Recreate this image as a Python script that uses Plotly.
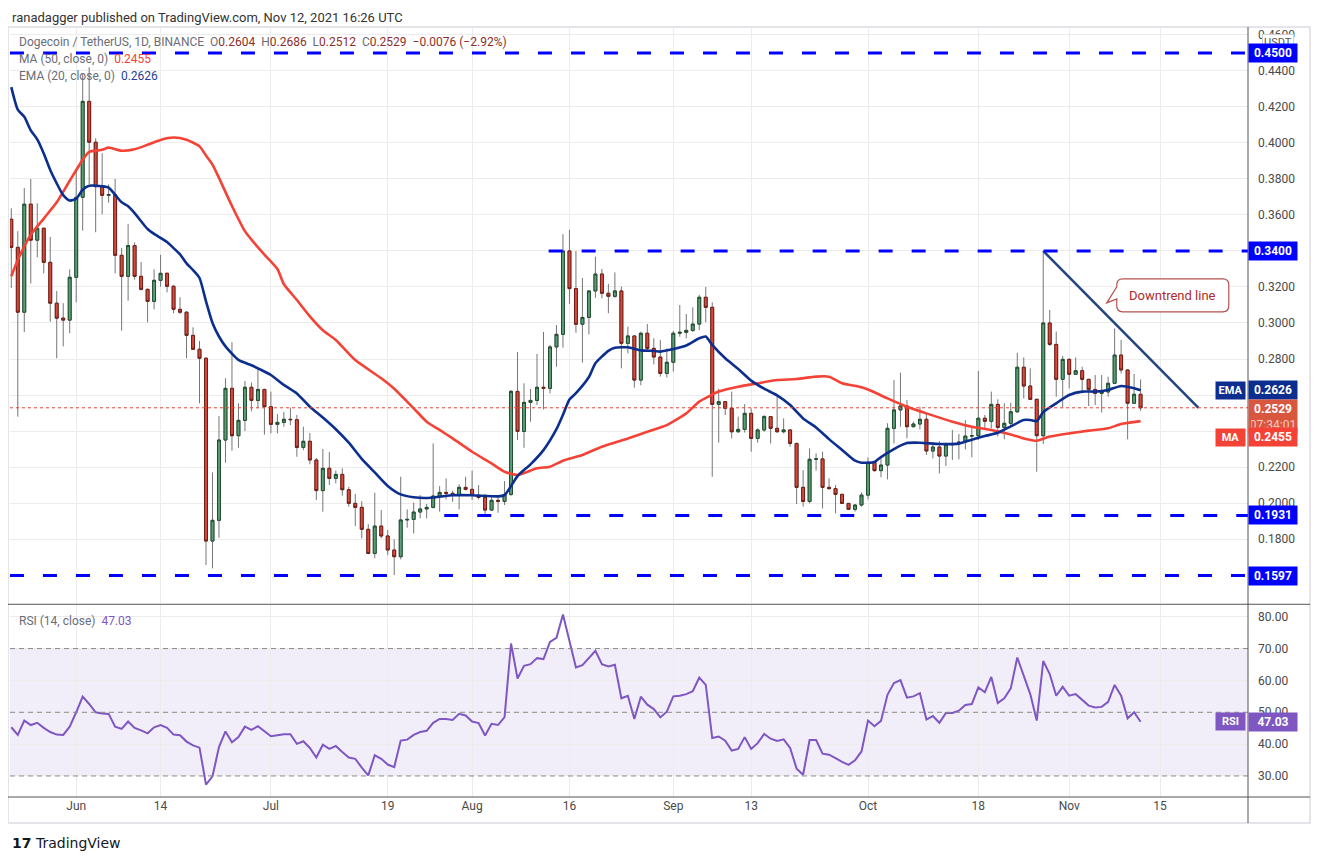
import pandas as pd
import plotly.graph_objects as go
from plotly.subplots import make_subplots

START = "2021-05-22"

# daily candles, Binance DOGE/USDT, 22 May -> 12 Nov 2021
opens = [
    0.3576, 0.3420, 0.3060, 0.3660, 0.3460, 0.3526, 0.3337, 0.3110, 0.3027, 0.3016,
    0.3254, 0.3698, 0.4231, 0.4004, 0.3757, 0.3709, 0.3713, 0.3376, 0.3259, 0.3430,
    0.3259, 0.3187, 0.3120, 0.3237, 0.3276, 0.3204, 0.3076, 0.3060, 0.2931, 0.2854,
    0.2804, 0.1789, 0.1904, 0.2350, 0.2637, 0.2374, 0.2459, 0.2643, 0.2570, 0.2631,
    0.2535, 0.2437, 0.2448, 0.2465, 0.2463, 0.2309, 0.2343, 0.2239, 0.2069, 0.2193,
    0.2137, 0.2159, 0.2074, 0.1998, 0.1976, 0.1854, 0.1720, 0.1872, 0.1817, 0.1739,
    0.1702, 0.1906, 0.1909, 0.1950, 0.1967, 0.1976, 0.2039, 0.2059, 0.2054, 0.2046,
    0.2087, 0.2076, 0.2043, 0.2031, 0.1961, 0.2015, 0.2009, 0.2048, 0.2620, 0.2398,
    0.2559, 0.2570, 0.2643, 0.2637, 0.2867, 0.2937, 0.3400, 0.3191, 0.2993, 0.3031,
    0.3178, 0.3272, 0.3165, 0.3148, 0.3178, 0.2887, 0.2928, 0.2683, 0.2943, 0.2859,
    0.2811, 0.2720, 0.2782, 0.2943, 0.2948, 0.2959, 0.2994, 0.3143, 0.3087, 0.2548,
    0.2563, 0.2526, 0.2396, 0.2409, 0.2498, 0.2359, 0.2406, 0.2480, 0.2415, 0.2396,
    0.2406, 0.2331, 0.2087, 0.2009, 0.2243, 0.2245, 0.2087, 0.2080, 0.2048, 0.1998,
    0.1965, 0.1989, 0.2044, 0.2226, 0.2180, 0.2211, 0.2415, 0.2517, 0.2539, 0.2424,
    0.2439, 0.2465, 0.2289, 0.2311, 0.2261, 0.2324, 0.2331, 0.2339, 0.2372, 0.2374,
    0.2471, 0.2454, 0.2548, 0.2420, 0.2443, 0.2507, 0.2754, 0.2650, 0.2576, 0.2374,
    0.3000, 0.2881, 0.2687, 0.2798, 0.2715, 0.2735, 0.2687, 0.2631, 0.2609, 0.2617,
    0.2665, 0.2822, 0.2739, 0.2554, 0.2604,
]
highs = [
    0.3637, 0.3510, 0.3750, 0.3800, 0.3665, 0.3530, 0.3478, 0.3178, 0.3110, 0.3298,
    0.3850, 0.4385, 0.4420, 0.4026, 0.3943, 0.3770, 0.3800, 0.3417, 0.3550, 0.3448,
    0.3339, 0.3190, 0.3298, 0.3378, 0.3280, 0.3210, 0.3143, 0.3065, 0.2976, 0.2900,
    0.2810, 0.2170, 0.2483, 0.2693, 0.2893, 0.2554, 0.2678, 0.2670, 0.2752, 0.2635,
    0.2619, 0.2494, 0.2506, 0.2531, 0.2489, 0.2424, 0.2389, 0.2250, 0.2300, 0.2283,
    0.2180, 0.2193, 0.2090, 0.2050, 0.2011, 0.1883, 0.2057, 0.1961, 0.1850, 0.1798,
    0.2146, 0.1965, 0.2002, 0.2044, 0.1995, 0.2331, 0.2094, 0.2137, 0.2069, 0.2104,
    0.2146, 0.2180, 0.2100, 0.2050, 0.2039, 0.2040, 0.2122, 0.2628, 0.2839, 0.2665,
    0.2633, 0.2828, 0.2950, 0.2878, 0.2989, 0.3494, 0.3517, 0.3400, 0.3250, 0.3180,
    0.3369, 0.3300, 0.3217, 0.3281, 0.3202, 0.2980, 0.2930, 0.2952, 0.2994, 0.2915,
    0.2906, 0.2859, 0.2956, 0.3100, 0.3050, 0.3087, 0.3156, 0.3200, 0.3115, 0.2635,
    0.2565, 0.2619, 0.2480, 0.2550, 0.2526, 0.2415, 0.2489, 0.2482, 0.2600, 0.2470,
    0.2410, 0.2335, 0.2183, 0.2304, 0.2276, 0.2285, 0.2137, 0.2100, 0.2052, 0.2000,
    0.1994, 0.2059, 0.2254, 0.2230, 0.2248, 0.2443, 0.2683, 0.2724, 0.2572, 0.2452,
    0.2535, 0.2498, 0.2335, 0.2344, 0.2335, 0.2406, 0.2383, 0.2461, 0.2424, 0.2733,
    0.2489, 0.2619, 0.2576, 0.2554, 0.2557, 0.2835, 0.2809, 0.2748, 0.2580, 0.3400,
    0.3072, 0.2952, 0.2817, 0.2804, 0.2809, 0.2757, 0.2690, 0.2711, 0.2711, 0.2702,
    0.2970, 0.2906, 0.2742, 0.2717, 0.2686,
]
lows = [
    0.3195, 0.2480, 0.2950, 0.3220, 0.3365, 0.3276, 0.3007, 0.2804, 0.2870, 0.2943,
    0.3115, 0.3513, 0.3772, 0.3504, 0.3604, 0.3668, 0.3276, 0.2957, 0.3124, 0.3240,
    0.3180, 0.3004, 0.3076, 0.3202, 0.3170, 0.3054, 0.3050, 0.2804, 0.2850, 0.2554,
    0.1656, 0.1637, 0.1807, 0.2224, 0.2291, 0.2307, 0.2400, 0.2509, 0.2526, 0.2380,
    0.2387, 0.2387, 0.2424, 0.2433, 0.2257, 0.2294, 0.2215, 0.2017, 0.1952, 0.2100,
    0.2109, 0.2041, 0.1980, 0.1872, 0.1804, 0.1715, 0.1693, 0.1804, 0.1711, 0.1600,
    0.1687, 0.1863, 0.1831, 0.1915, 0.1915, 0.1970, 0.1952, 0.2020, 0.2007, 0.1965,
    0.2070, 0.2017, 0.2020, 0.1933, 0.1957, 0.1946, 0.1989, 0.2040, 0.2350, 0.2307,
    0.2452, 0.2545, 0.2520, 0.2609, 0.2757, 0.2863, 0.3106, 0.2946, 0.2780, 0.2937,
    0.3140, 0.3137, 0.3054, 0.3140, 0.2748, 0.2831, 0.2641, 0.2654, 0.2841, 0.2770,
    0.2702, 0.2698, 0.2730, 0.2924, 0.2915, 0.2950, 0.2961, 0.3004, 0.2146, 0.2335,
    0.2489, 0.2359, 0.2390, 0.2391, 0.2285, 0.2335, 0.2396, 0.2331, 0.2390, 0.2387,
    0.2313, 0.1994, 0.1980, 0.1998, 0.2180, 0.1970, 0.2075, 0.1943, 0.1995, 0.1962,
    0.1952, 0.1980, 0.2020, 0.2175, 0.2143, 0.2131, 0.2331, 0.2424, 0.2359, 0.2420,
    0.2409, 0.2267, 0.2248, 0.2165, 0.2206, 0.2239, 0.2243, 0.2298, 0.2254, 0.2350,
    0.2406, 0.2415, 0.2369, 0.2354, 0.2424, 0.2500, 0.2581, 0.2572, 0.2174, 0.2328,
    0.2872, 0.2591, 0.2526, 0.2637, 0.2711, 0.2624, 0.2539, 0.2544, 0.2502, 0.2591,
    0.2660, 0.2720, 0.2354, 0.2550, 0.2512,
]
closes = [
    0.3420, 0.3060, 0.3660, 0.3460, 0.3526, 0.3337, 0.3110, 0.3027, 0.3016, 0.3254,
    0.3698, 0.4231, 0.4004, 0.3757, 0.3709, 0.3713, 0.3376, 0.3259, 0.3430, 0.3259,
    0.3187, 0.3120, 0.3237, 0.3276, 0.3204, 0.3076, 0.3060, 0.2931, 0.2854, 0.2804,
    0.1789, 0.1904, 0.2350, 0.2637, 0.2374, 0.2459, 0.2643, 0.2570, 0.2631, 0.2535,
    0.2437, 0.2448, 0.2465, 0.2463, 0.2309, 0.2343, 0.2239, 0.2069, 0.2193, 0.2137,
    0.2159, 0.2074, 0.1998, 0.1976, 0.1854, 0.1720, 0.1872, 0.1817, 0.1739, 0.1702,
    0.1906, 0.1909, 0.1950, 0.1967, 0.1976, 0.2039, 0.2059, 0.2054, 0.2046, 0.2087,
    0.2076, 0.2043, 0.2031, 0.1961, 0.2015, 0.2009, 0.2048, 0.2620, 0.2398, 0.2559,
    0.2570, 0.2643, 0.2637, 0.2867, 0.2937, 0.3400, 0.3191, 0.2993, 0.3031, 0.3178,
    0.3272, 0.3165, 0.3148, 0.3178, 0.2887, 0.2928, 0.2683, 0.2943, 0.2859, 0.2811,
    0.2720, 0.2782, 0.2943, 0.2948, 0.2959, 0.2994, 0.3143, 0.3087, 0.2548, 0.2563,
    0.2526, 0.2396, 0.2409, 0.2498, 0.2359, 0.2406, 0.2480, 0.2415, 0.2396, 0.2406,
    0.2331, 0.2087, 0.2009, 0.2243, 0.2245, 0.2087, 0.2080, 0.2048, 0.1998, 0.1965,
    0.1989, 0.2044, 0.2226, 0.2180, 0.2211, 0.2415, 0.2517, 0.2539, 0.2424, 0.2439,
    0.2465, 0.2289, 0.2311, 0.2261, 0.2324, 0.2331, 0.2339, 0.2372, 0.2374, 0.2471,
    0.2454, 0.2548, 0.2420, 0.2443, 0.2507, 0.2754, 0.2650, 0.2576, 0.2374, 0.3000,
    0.2881, 0.2687, 0.2798, 0.2715, 0.2735, 0.2687, 0.2631, 0.2609, 0.2617, 0.2665,
    0.2822, 0.2739, 0.2554, 0.2604, 0.2529,
]
rsi = [
    45.3, 42.9, 47.4, 46.0, 46.7, 45.1, 43.8, 43.0, 42.9, 45.5,
    50.0, 54.9, 52.6, 50.0, 49.6, 49.5, 45.5, 44.8, 47.1, 45.1,
    44.3, 43.4, 45.3, 46.0, 45.1, 43.0, 42.8, 40.8, 39.6, 38.9,
    27.3, 29.9, 39.1, 44.0, 40.6, 42.2, 45.5, 44.5, 45.6, 44.1,
    42.5, 42.8, 43.1, 43.1, 40.1, 40.9, 38.8, 35.8, 39.8, 38.5,
    39.4, 37.5, 35.8, 35.4, 32.6, 30.2, 36.5, 35.4, 33.6, 32.8,
    41.1, 41.4, 42.9, 43.8, 44.2, 46.7, 47.9, 47.9, 47.6, 49.5,
    49.0, 47.1, 46.6, 42.7, 46.4, 46.0, 48.5, 71.6, 60.6, 64.6,
    65.1, 67.0, 66.7, 72.1, 73.4, 80.7, 71.9, 64.1, 64.8, 67.2,
    69.3, 65.1, 64.4, 64.9, 54.4, 55.2, 47.9, 54.9, 52.4, 51.0,
    48.4, 50.2, 55.0, 55.2, 55.7, 56.6, 60.9, 58.6, 41.9, 42.4,
    41.1, 38.0, 38.5, 42.2, 38.5, 40.3, 43.2, 41.7, 41.0, 41.5,
    38.8, 32.3, 30.4, 41.3, 41.3, 37.0, 36.7, 35.6, 34.4, 33.5,
    34.9, 37.7, 47.4, 45.6, 47.3, 55.5, 59.2, 60.1, 54.6, 55.0,
    56.0, 47.7, 48.8, 46.7, 49.8, 49.8, 50.5, 52.3, 52.6, 57.8,
    56.3, 61.1, 52.9, 54.4, 57.5, 67.2, 61.5, 55.7, 47.4, 66.1,
    62.0, 55.2, 58.0, 55.2, 55.7, 54.0, 52.1, 51.5, 51.7, 53.3,
    58.6, 55.2, 48.1, 50.0, 47.03,
]

# MA 50 and EMA 20 (day number from START, value)
ma_days = [0, 1, 3, 5, 7, 9, 11, 12, 14, 15, 17, 19, 21, 23, 25, 27, 29, 30, 31, 32,
           34, 36, 37, 39, 41, 42, 44, 46, 48, 50, 53, 57, 59, 62, 64, 66, 68, 71, 74, 76,
           78, 81, 83, 85, 88, 91, 95, 98, 100, 101, 104, 106, 109, 112, 115, 118, 121, 124, 126, 128,
           131, 133, 135, 138, 141, 145, 148, 151, 154, 156, 158, 160, 163, 166, 169, 171, 174]
ma_vals = [0.3260, 0.3350, 0.3490, 0.3580, 0.3670, 0.3790, 0.3906, 0.3950, 0.3962, 0.3974,
           0.3957, 0.3965, 0.3990, 0.4017, 0.4030, 0.4018, 0.3981, 0.3930, 0.3880, 0.3806,
           0.3650, 0.3510, 0.3463, 0.3380, 0.3300, 0.3215, 0.3128, 0.3037, 0.2960, 0.2906,
           0.2794, 0.2693, 0.2635, 0.2526, 0.2452, 0.2406, 0.2359, 0.2285, 0.2220, 0.2174,
           0.2156, 0.2193, 0.2202, 0.2235, 0.2267, 0.2313, 0.2359, 0.2396, 0.2420, 0.2433,
           0.2498, 0.2563, 0.2619, 0.2646, 0.2665, 0.2683, 0.2689, 0.2702, 0.2702, 0.2665,
           0.2643, 0.2615, 0.2581, 0.2535, 0.2498, 0.2452, 0.2424, 0.2406, 0.2381, 0.2359,
           0.2346, 0.2369, 0.2387, 0.2402, 0.2415, 0.2439, 0.2455]
ema_days = [0, 1, 2, 3, 4, 5, 6, 7, 8, 9, 10, 11, 12,
            14, 15, 16, 17, 18, 19, 20, 21, 22,
            24, 25, 26, 27, 28, 29, 30, 31, 32, 33,
            35, 37, 38, 40, 42, 44, 46, 48, 50, 52, 54, 56, 58, 60, 62, 64, 66, 68,
            71, 75, 76, 78, 80, 82, 84, 85, 86, 87, 89, 90, 92, 93, 95, 97, 99, 100,
            102, 104, 106, 107, 108, 110, 112, 114, 116, 118, 120, 122, 124, 126, 128, 130,
            131, 133, 134, 136, 138, 140, 143, 146, 148, 150, 152, 154, 156, 157, 158, 159,
            161, 163, 165, 167, 169, 171, 173, 174]
ema_vals = [0.4310, 0.4185, 0.4145, 0.4070, 0.4020, 0.3942, 0.3850, 0.3776, 0.3710, 0.3680, 0.3690, 0.3740, 0.3762,
            0.3759, 0.3752, 0.3712, 0.3670, 0.3648, 0.3610, 0.3565, 0.3522, 0.3495,
            0.3450, 0.3416, 0.3381, 0.3331, 0.3294, 0.3250, 0.3120, 0.3000, 0.2925, 0.2870,
            0.2795, 0.2765, 0.2748, 0.2711, 0.2656, 0.2609, 0.2535, 0.2475, 0.2410, 0.2335,
            0.2245, 0.2170, 0.2095, 0.2048, 0.2032, 0.2028, 0.2035, 0.2043,
            0.2043, 0.2037, 0.2044, 0.2150, 0.2215, 0.2294, 0.2410, 0.2490, 0.2575, 0.2610,
            0.2700, 0.2776, 0.2845, 0.2862, 0.2865, 0.2848, 0.2845, 0.2841,
            0.2855, 0.2875, 0.2915, 0.2925, 0.2878, 0.2804, 0.2745, 0.2680, 0.2635, 0.2598,
            0.2544, 0.2470, 0.2420, 0.2355, 0.2295, 0.2235,
            0.2224, 0.2228, 0.2255, 0.2300, 0.2333, 0.2335, 0.2328, 0.2330, 0.2352, 0.2372,
            0.2390, 0.2426, 0.2461, 0.2461, 0.2455, 0.2505,
            0.2554, 0.2600, 0.2619, 0.2619, 0.2628, 0.2650, 0.2637, 0.2626]

# horizontal levels drawn on the chart and where each one starts
levels = [0.4500, 0.3400, 0.1931, 0.1597]
level_start = ["2021-05-21 19:00", "2021-08-12 19:00", "2021-07-27 17:00", "2021-05-21 19:00"]

trend_x = ["2021-10-28", "2021-11-20 22:00"]
trend_y = [0.3400, 0.2529]

tick_dates = ["2021-06-01", "2021-06-14", "2021-07-01", "2021-07-19", "2021-08-01", "2021-08-16",
              "2021-09-01", "2021-09-13", "2021-10-01", "2021-10-18", "2021-11-01", "2021-11-15"]
tick_text = ["Jun", "14", "Jul", "19", "Aug", "16", "Sep", "13", "Oct", "18", "Nov", "15"]
price_grid = [0.18, 0.20, 0.22, 0.24, 0.26, 0.28, 0.30, 0.32, 0.34, 0.36, 0.38, 0.40, 0.42, 0.44, 0.46]
# scale labels hidden behind the coloured price tags in the reference
price_hidden = [0.24, 0.26, 0.34]
rsi_ticks = [30, 40, 50, 60, 70, 80]

x_range = ["2021-05-21 19:12", "2021-11-28 13:12"]

days = pd.date_range(START, periods=len(closes), freq="D")
t0 = pd.Timestamp(START)
ma_x = [t0 + pd.Timedelta(days=d) for d in ma_days]
ema_x = [t0 + pd.Timedelta(days=d) for d in ema_days]
body_hi = [max(o, c) for o, c in zip(opens, closes)]
body_lo = [min(o, c) for o, c in zip(opens, closes)]

UP_FILL, UP_EDGE = "#5b9f77", "#1f4d2e"
DN_FILL, DN_EDGE = "#d94a3a", "#6e1e18"
WICK = "#767676"
GRID = "#ececec"
AXIS = "#555555"
FONT = "Roboto"

fig = make_subplots(rows=2, cols=1, shared_xaxes=True, vertical_spacing=0.002)

# wicks, then bodies with a darker outline on top
fig.add_trace(go.Candlestick(x=days, open=opens, high=highs, low=lows, close=closes,
                             increasing=dict(line=dict(color=WICK, width=1), fillcolor=UP_FILL),
                             decreasing=dict(line=dict(color=WICK, width=1), fillcolor=DN_FILL),
                             hoverinfo="skip", showlegend=False), row=1, col=1)
fig.add_trace(go.Candlestick(x=days, open=opens, high=body_hi, low=body_lo, close=closes,
                             increasing=dict(line=dict(color=UP_EDGE, width=1), fillcolor=UP_FILL),
                             decreasing=dict(line=dict(color=DN_EDGE, width=1), fillcolor=DN_FILL),
                             hoverinfo="skip", showlegend=False), row=1, col=1)

fig.add_trace(go.Scatter(x=ma_x, y=ma_vals, mode="lines", hoverinfo="skip", showlegend=False,
                         line=dict(color="#f44336", width=2.6, shape="spline", smoothing=0.6)), row=1, col=1)
fig.add_trace(go.Scatter(x=ema_x, y=ema_vals, mode="lines", hoverinfo="skip", showlegend=False,
                         line=dict(color="#0c2f8f", width=2.6, shape="spline", smoothing=0.6)), row=1, col=1)
fig.add_trace(go.Scatter(x=trend_x, y=trend_y, mode="lines", hoverinfo="skip", showlegend=False,
                         line=dict(color="#23457f", width=2.5)), row=1, col=1)

fig.add_trace(go.Scatter(x=days, y=rsi, mode="lines", hoverinfo="skip", showlegend=False,
                         line=dict(color="#7e57c2", width=2)), row=2, col=1)

shapes = []
for lv, x0 in zip(levels, level_start):
    shapes.append(dict(type="line", xref="x", yref="y", x0=x0, x1=x_range[1], y0=lv, y1=lv,
                       line=dict(color="#0000ff", width=3, dash="14px,19px")))
# last price
shapes.append(dict(type="line", xref="x", yref="y", x0=x_range[0], x1=x_range[1],
                   y0=closes[-1], y1=closes[-1], line=dict(color="#e0463a", width=1, dash="dot")))
# RSI band and its levels
shapes.append(dict(type="rect", xref="x2 domain", yref="y2", x0=0, x1=1, y0=30, y1=70,
                   fillcolor="rgba(126,87,194,0.10)", line=dict(width=0), layer="below"))
for lv in (30, 50, 70):
    shapes.append(dict(type="line", xref="x2 domain", yref="y2", x0=0, x1=1, y0=lv, y1=lv,
                       line=dict(color="#8a8a8a", width=1, dash="5px,4px")))
# callout for the trend line (pixel path anchored at its tip)
callout_x, callout_y = "2021-11-06 19:00", 0.3112
shapes.append(dict(type="path", xref="x", yref="y", xsizemode="pixel", ysizemode="pixel",
                   xanchor=callout_x, yanchor=callout_y,
                   path="M 0,0 L 10,4 L 10,-3 Q 10,-9 16,-9 L 116,-9 Q 122,-9 122,-3 L 122,18 "
                        "Q 122,24 116,24 L 16,24 Q 10,24 10,18 L 10,16 Z",
                   line=dict(color="#b5524f", width=1.2), fillcolor="white"))
# frame, panel separator, price scale separator, time axis line
shapes += [
    dict(type="rect", xref="paper", yref="paper", x0=-0.0016, x1=1.0501, y0=-0.0338, y1=1.0,
         line=dict(color="#e4e4ea", width=2), layer="below"),
    dict(type="line", xref="paper", yref="paper", x0=-0.0016, x1=1.0501, y0=0.2503, y1=0.2503,
         line=dict(color=AXIS, width=1)),
    dict(type="line", xref="paper", yref="paper", x0=1, x1=1, y0=-0.0338, y1=1.0,
         line=dict(color=AXIS, width=1)),
    dict(type="line", xref="paper", yref="paper", x0=-0.0016, x1=1.0501, y0=0, y1=0,
         line=dict(color=AXIS, width=1)),
]


def tag(y, text, bg, yref="y", yshift=0, fg="white", yanchor="middle"):
    return dict(xref="paper", x=1, xanchor="left", yref=yref, y=y, yanchor=yanchor, yshift=yshift,
                text=text, showarrow=False, bgcolor=bg, width=44, borderpad=2, align="center",
                font=dict(family=FONT, size=12, color=fg))


def side_tag(y, text, bg, yref="y", yshift=0):
    return dict(xref="paper", x=1, xanchor="right", xshift=-2, yref=yref, y=y, yanchor="middle",
                yshift=yshift, text=text, showarrow=False, bgcolor=bg, width=25, borderpad=2,
                font=dict(family=FONT, size=11, color="white"))


grey = "#6a6d78"
annotations = [
    dict(xref="paper", yref="paper", x=0, y=1.0247, xanchor="left", yanchor="top", showarrow=False,
         text="ranadagger published on TradingView.com, Nov 12, 2021 16:26 UTC",
         font=dict(family=FONT, size=13, color="#333333")),
    dict(xref="paper", yref="paper", x=0.0057, y=0.9805, xanchor="left", yanchor="middle", showarrow=False,
         text=(f"<span style='color:{grey}'>Dogecoin / TetherUS, 1D, BINANCE</span>  "
               f"<span style='color:{grey}'>O</span>0.2604  <span style='color:{grey}'>H</span>0.2686  "
               f"<span style='color:{grey}'>L</span>0.2512  <span style='color:{grey}'>C</span>0.2529  "
               "\u22120.0076 (\u22122.92%)"),
         font=dict(family=FONT, size=12, color="#8c2f2a")),
    dict(xref="paper", yref="paper", x=0.0057, y=0.9584, xanchor="left", yanchor="middle", showarrow=False,
         text=f"<span style='color:{grey}'>MA (50, close, 0)</span>  0.2455",
         font=dict(family=FONT, size=12, color="#f44336")),
    dict(xref="paper", yref="paper", x=0.0057, y=0.9364, xanchor="left", yanchor="middle", showarrow=False,
         text=f"<span style='color:{grey}'>EMA (20, close, 0)</span>  0.2626",
         font=dict(family=FONT, size=12, color="#1e3f9c")),
    dict(xref="paper", yref="paper", x=0.0057, y=0.2286, xanchor="left", yanchor="middle", showarrow=False,
         text=f"<span style='color:{grey}'>RSI (14, close)</span>  47.03",
         font=dict(family=FONT, size=12, color="#7e57c2")),
    dict(x=callout_x, y=callout_y, xref="x", yref="y", xshift=66, yshift=7.5, showarrow=False,
         text="Downtrend line", font=dict(family=FONT, size=13, color="#b02a2a")),
    dict(xref="paper", yref="paper", x=0, y=-0.0597, xanchor="left", yanchor="middle", showarrow=False,
         text="<b>17</b> TradingView", font=dict(family="DejaVu Sans", size=14, color="#131722")),
    dict(xref="paper", yref="paper", x=1, xshift=14, y=0.9805, xanchor="left", yanchor="middle",
         showarrow=False, text="USDT", bgcolor="white", bordercolor="#cfcfd6", borderwidth=1, borderpad=1,
         font=dict(family=FONT, size=11, color="#555555")),
]
for lv in levels:
    annotations.append(tag(lv, f"<b>{lv:.4f}</b>", "#0000ff"))
annotations.append(tag(ema_vals[-1], "<b>0.2626</b>", "#0c2f8f"))
annotations.append(side_tag(ema_vals[-1], "<b>EMA</b>", "#0c2f8f"))
annotations.append(tag(closes[-1], "<b>0.2529</b><br><span style='color:#f6c9c2'>07:34:01</span>",
                       "#d9563f", yanchor="top", yshift=9))
annotations.append(tag(ma_vals[-1], "<b>0.2455</b>", "#f44336", yshift=-16))
annotations.append(side_tag(ma_vals[-1], "<b>MA</b>", "#f44336", yshift=-16))
annotations.append(tag(rsi[-1], "<b>47.03</b>", "#7e57c2", yref="y2"))
annotations.append(side_tag(rsi[-1], "<b>RSI</b>", "#7e57c2", yref="y2"))

# the page body adds an 8px offset, so the figure is 8px smaller and the margins shift back
fig.update_layout(
    width=1312, height=852,
    margin=dict(l=2, r=72, t=19, b=63),
    paper_bgcolor="white", plot_bgcolor="white",
    font=dict(family=FONT, size=12, color="#4a4a4a"),
    showlegend=False, boxgap=0.36,
    shapes=shapes, annotations=annotations,
    xaxis=dict(range=x_range, tickvals=tick_dates, showticklabels=False, showgrid=True, gridcolor=GRID,
               ticks="", zeroline=False, rangeslider=dict(visible=False)),
    xaxis2=dict(range=x_range, tickvals=tick_dates, ticktext=tick_text, showgrid=True, gridcolor=GRID,
                ticks="", zeroline=False, rangeslider=dict(visible=False),
                tickfont=dict(family=FONT, size=12, color="#4a4a4a")),
    yaxis=dict(domain=[0.2513, 1], side="right", range=[0.1442, 0.4644], tickvals=price_grid,
               ticktext=["" if v in price_hidden else f"{v:.4f}" for v in price_grid],
               showgrid=True, gridcolor=GRID, zeroline=False,
               ticks="", ticklabelstandoff=9, tickfont=dict(family=FONT, size=12, color="#4a4a4a")),
    yaxis2=dict(domain=[0, 0.2494], side="right", range=[23.4, 83.7], tickvals=rsi_ticks,
                ticktext=[f"{v:.2f}" for v in rsi_ticks], showgrid=True, gridcolor=GRID, zeroline=False,
                ticks="", ticklabelstandoff=9, tickfont=dict(family=FONT, size=12, color="#4a4a4a")),
)

fig.write_html("out.html")
